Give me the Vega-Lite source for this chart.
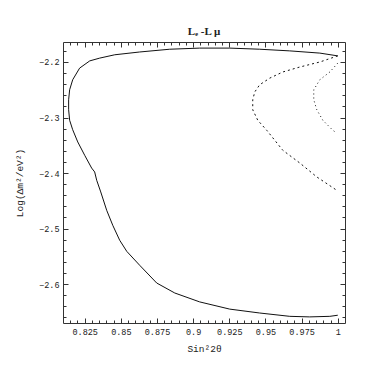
{
  "$schema": "https://vega.github.io/schema/vega-lite/v6.json",
  "autosize": {"type": "none"},
  "padding": {"left": 63, "top": 42, "right": 37, "bottom": 43},
  "width": 282,
  "height": 281,
  "background": "white",
  "config": {
    "view": {"stroke": "#333", "strokeWidth": 1},
    "axis": {"zindex": 2, "grid": false, "domain": false, "tickColor": "#333", "tickWidth": 1, "labelColor": "#222", "titleColor": "#222", "labelFont": "Liberation Mono", "labelFontSize": 8.5, "titleFont": "Liberation Mono", "titleFontSize": 9.5, "titleFontWeight": "normal"}
  },
  "title": {"text": "Lₑ   -L μ", "font": "Liberation Serif", "fontSize": 11, "fontWeight": "bold", "color": "#222", "offset": 5},
  "datasets": {
    "upper": [
      {"i": 0, "x": 1.0, "y": -2.189},
      {"i": 1, "x": 0.9876, "y": -2.184},
      {"i": 2, "x": 0.9668, "y": -2.180},
      {"i": 3, "x": 0.946, "y": -2.177},
      {"i": 4, "x": 0.9253, "y": -2.175},
      {"i": 5, "x": 0.9045, "y": -2.175},
      {"i": 6, "x": 0.8838, "y": -2.177},
      {"i": 7, "x": 0.863, "y": -2.182},
      {"i": 8, "x": 0.8458, "y": -2.187},
      {"i": 9, "x": 0.8354, "y": -2.193},
      {"i": 10, "x": 0.8285, "y": -2.198},
      {"i": 11, "x": 0.8215, "y": -2.211},
      {"i": 12, "x": 0.8167, "y": -2.232},
      {"i": 13, "x": 0.8146, "y": -2.250},
      {"i": 14, "x": 0.8139, "y": -2.268},
      {"i": 15, "x": 0.8139, "y": -2.286}
    ],
    "lower": [
      {"i": 15, "x": 0.8139, "y": -2.286},
      {"i": 16, "x": 0.8146, "y": -2.305},
      {"i": 17, "x": 0.8167, "y": -2.322},
      {"i": 18, "x": 0.8202, "y": -2.344},
      {"i": 19, "x": 0.825, "y": -2.368},
      {"i": 20, "x": 0.8298, "y": -2.391},
      {"i": 21, "x": 0.8319, "y": -2.398},
      {"i": 22, "x": 0.8333, "y": -2.413},
      {"i": 23, "x": 0.8361, "y": -2.434},
      {"i": 24, "x": 0.8402, "y": -2.467},
      {"i": 25, "x": 0.8444, "y": -2.494},
      {"i": 26, "x": 0.8492, "y": -2.521},
      {"i": 27, "x": 0.8541, "y": -2.541},
      {"i": 28, "x": 0.863, "y": -2.566},
      {"i": 29, "x": 0.8748, "y": -2.598},
      {"i": 30, "x": 0.8873, "y": -2.616},
      {"i": 31, "x": 0.9045, "y": -2.632},
      {"i": 32, "x": 0.9253, "y": -2.645},
      {"i": 33, "x": 0.946, "y": -2.652},
      {"i": 34, "x": 0.9668, "y": -2.658},
      {"i": 35, "x": 0.9806, "y": -2.659},
      {"i": 36, "x": 0.9945, "y": -2.658},
      {"i": 37, "x": 1.0, "y": -2.656}
    ],
    "dashed": [
      {"i": 0, "x": 1.0, "y": -2.189},
      {"i": 1, "x": 0.9876, "y": -2.200},
      {"i": 2, "x": 0.9738, "y": -2.209},
      {"i": 3, "x": 0.962, "y": -2.218},
      {"i": 4, "x": 0.953, "y": -2.229},
      {"i": 5, "x": 0.946, "y": -2.241},
      {"i": 6, "x": 0.9426, "y": -2.254},
      {"i": 7, "x": 0.9412, "y": -2.268},
      {"i": 8, "x": 0.9412, "y": -2.286},
      {"i": 9, "x": 0.9447, "y": -2.305},
      {"i": 10, "x": 0.9509, "y": -2.323},
      {"i": 11, "x": 0.962, "y": -2.359},
      {"i": 12, "x": 0.9738, "y": -2.382},
      {"i": 13, "x": 0.9855, "y": -2.407},
      {"i": 14, "x": 0.9993, "y": -2.431}
    ],
    "dotted": [
      {"i": 0, "x": 1.0, "y": -2.202},
      {"i": 1, "x": 0.9945, "y": -2.218},
      {"i": 2, "x": 0.9876, "y": -2.232},
      {"i": 3, "x": 0.9834, "y": -2.250},
      {"i": 4, "x": 0.9834, "y": -2.268},
      {"i": 5, "x": 0.9855, "y": -2.286},
      {"i": 6, "x": 0.9897, "y": -2.305},
      {"i": 7, "x": 0.9966, "y": -2.323},
      {"i": 8, "x": 0.9993, "y": -2.328}
    ]
  },
  "resolve": {"axis": {"x": "independent", "y": "independent"}},
  "layer": [
    {
      "data": {"name": "upper"},
      "mark": {"type": "line", "color": "#111", "strokeWidth": 1},
      "encoding": {
        "x": {"field": "x", "type": "quantitative", "scale": {"domain": [0.81, 1.005], "nice": false, "zero": false},
          "axis": {"orient": "bottom", "title": "Sin²2θ", "titlePadding": 8, "values": [0.825, 0.85, 0.875, 0.9, 0.925, 0.95, 0.975, 1.0], "format": ".3~f", "tickSize": -5, "labelPadding": 9, "labelFlush": false}},
        "y": {"field": "y", "type": "quantitative", "scale": {"domain": [-2.67, -2.164], "nice": false, "zero": false},
          "axis": {"orient": "left", "title": "Log(Δm²/eV²)", "titlePadding": 14, "values": [-2.6, -2.5, -2.4, -2.3, -2.2], "format": ".1f", "tickSize": -5, "labelPadding": 9, "labelFlush": false}},
        "order": {"field": "i", "type": "quantitative"}
      }
    },
    {
      "data": {"name": "lower"},
      "mark": {"type": "line", "color": "#111", "strokeWidth": 1},
      "encoding": {
        "x": {"field": "x", "type": "quantitative",
          "axis": {"orient": "bottom", "title": null, "labels": false, "values": [0.815,0.82,0.83,0.835,0.84,0.845,0.855,0.86,0.865,0.87,0.88,0.885,0.89,0.895,0.905,0.91,0.915,0.92,0.93,0.935,0.94,0.945,0.955,0.96,0.965,0.97,0.98,0.985,0.99,0.995], "tickSize": -3}},
        "y": {"field": "y", "type": "quantitative",
          "axis": {"orient": "left", "title": null, "labels": false, "values": [-2.66,-2.64,-2.62,-2.58,-2.56,-2.54,-2.52,-2.48,-2.46,-2.44,-2.42,-2.38,-2.36,-2.34,-2.32,-2.28,-2.26,-2.24,-2.22,-2.18], "tickSize": -3}},
        "order": {"field": "i", "type": "quantitative"}
      }
    },
    {
      "data": {"name": "dashed"},
      "mark": {"type": "line", "color": "#111", "strokeWidth": 1, "strokeDash": [2, 3]},
      "encoding": {
        "x": {"field": "x", "type": "quantitative",
          "axis": {"orient": "top", "title": null, "labels": false, "values": [0.825, 0.85, 0.875, 0.9, 0.925, 0.95, 0.975, 1.0], "tickSize": -5}},
        "y": {"field": "y", "type": "quantitative",
          "axis": {"orient": "right", "title": null, "labels": false, "values": [-2.6, -2.5, -2.4, -2.3, -2.2], "tickSize": -5}},
        "order": {"field": "i", "type": "quantitative"}
      }
    },
    {
      "data": {"name": "dotted"},
      "mark": {"type": "line", "color": "#111", "strokeWidth": 1, "strokeDash": [1, 3]},
      "encoding": {
        "x": {"field": "x", "type": "quantitative",
          "axis": {"orient": "top", "title": null, "labels": false, "values": [0.815,0.82,0.83,0.835,0.84,0.845,0.855,0.86,0.865,0.87,0.88,0.885,0.89,0.895,0.905,0.91,0.915,0.92,0.93,0.935,0.94,0.945,0.955,0.96,0.965,0.97,0.98,0.985,0.99,0.995], "tickSize": -3}},
        "y": {"field": "y", "type": "quantitative",
          "axis": {"orient": "right", "title": null, "labels": false, "values": [-2.66,-2.64,-2.62,-2.58,-2.56,-2.54,-2.52,-2.48,-2.46,-2.44,-2.42,-2.38,-2.36,-2.34,-2.32,-2.28,-2.26,-2.24,-2.22,-2.18], "tickSize": -3}},
        "order": {"field": "i", "type": "quantitative"}
      }
    }
  ]
}
